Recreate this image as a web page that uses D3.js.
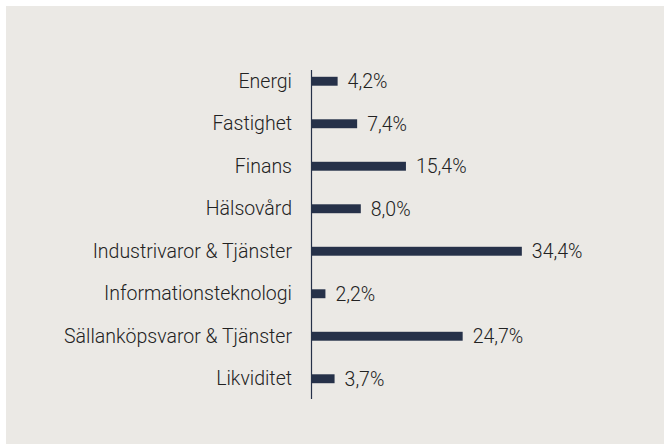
<!DOCTYPE html>
<html>
<head>
<meta charset="utf-8">
<script src="https://cdn.jsdelivr.net/npm/d3@7"></script>
<style>
    html, body { margin: 0; padding: 0; background: #fff; }
    svg { display: block; }
    text { font-family: Roboto, "Open Sans", sans-serif; font-weight: 300; fill: #222; }
</style>
</head>
<body>
<svg id="chart" width="664" height="444"></svg>
<script>
// Sector weights (%)
let sectors = ["Energi", "Fastighet", "Finans", "Hälsovård", "Industrivaror & Tjänster",
    "Informationsteknologi", "Sällanköpsvaror & Tjänster", "Likviditet"];
let weights = [4.2, 7.4, 15.4, 8.0, 34.4, 2.2, 24.7, 3.7];

let data = sectors.map((s, i) => ({Label: s, Value: weights[i]}));

let SVG = d3.select("#chart");
let bound = {width: 664, height: 444};
let fontSize = "19.5px";

// panel background
SVG.append("rect")
    .attr("x", 6).attr("y", 6)
    .attr("width", bound.width - 6).attr("height", bound.height - 6)
    .style("fill", "#ebe9e5");

let x = d3.scaleLinear().domain([0, 10]).range([312, 373]);
let y = d3.scaleBand().domain(sectors).range([60, 400]).paddingInner(0.79).paddingOuter(0.395);

let locale = d3.formatLocale({decimal: ",", thousands: " ", grouping: [3], currency: ["", " kr"]});
let fmt = v => locale.format(".1f")(v) + "%";

// bars
SVG.selectAll("rect.bar")
    .data(data)
    .enter()
    .append("rect")
    .attr("class", "bar")
    .attr("x", x(0))
    .attr("y", d => y(d.Label))
    .attr("width", d => x(d.Value) - x(0))
    .attr("height", y.bandwidth())
    .style("fill", "#263149");

// value labels
SVG.selectAll("text.value")
    .data(data)
    .enter()
    .append("text")
    .attr("class", "value")
    .attr("x", d => x(d.Value) + 10)
    .attr("y", d => y(d.Label) + y.bandwidth() / 2)
    .attr("dy", "0.36em")
    .style("font-size", fontSize)
    .text(d => fmt(d.Value));

// category axis
let yAxis = d3.axisLeft(y).tickSize(0).tickPadding(20);
let gy = SVG.append("g")
    .attr("transform", "translate(" + x(0) + ",0)")
    .call(yAxis);
gy.select(".domain").remove();
gy.selectAll("text")
    .style("font-size", fontSize)
    .style("font-family", "Roboto, sans-serif")
    .attr("fill", "#222");

SVG.append("line")
    .attr("x1", x(0) - 0.5).attr("x2", x(0) - 0.5)
    .attr("y1", 70).attr("y2", 399)
    .style("stroke", "#263149")
    .style("stroke-width", 1.2);
</script>
</body>
</html>
